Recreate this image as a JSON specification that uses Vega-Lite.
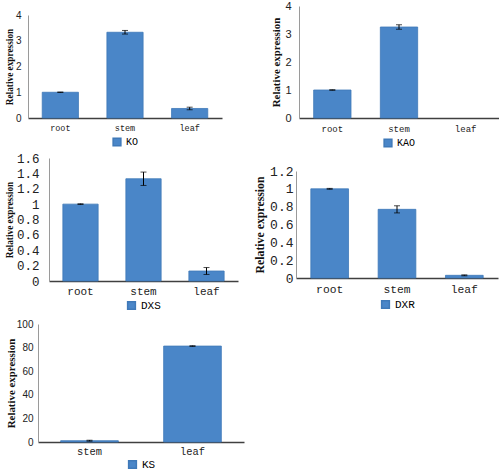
{
  "$schema": "https://vega.github.io/schema/vega-lite/v6.json",
  "padding": {"left": 4, "top": 0, "right": 0, "bottom": 0},
  "background": "white",
  "config": {
    "view": {"stroke": null},
    "axis": {"grid": false, "ticks": false, "labelColor": "#222", "titleColor": "#111"},
    "legend": {"layout": {"bottom": {"anchor": "middle"}}}
  },
  "datasets": {
    "expr": [
      {"gene": "KO", "tissue": "root", "value": 1.0, "err": 0.01},
      {"gene": "KO", "tissue": "stem", "value": 3.33, "err": 0.07},
      {"gene": "KO", "tissue": "leaf", "value": 0.37, "err": 0.05},
      {"gene": "KAO", "tissue": "root", "value": 1.0, "err": 0.01},
      {"gene": "KAO", "tissue": "stem", "value": 3.25, "err": 0.08},
      {"gene": "KAO", "tissue": "leaf", "value": 0, "err": 0},
      {"gene": "DXS", "tissue": "root", "value": 1.0, "err": 0.005},
      {"gene": "DXS", "tissue": "stem", "value": 1.33, "err": 0.087},
      {"gene": "DXS", "tissue": "leaf", "value": 0.13, "err": 0.045},
      {"gene": "DXR", "tissue": "root", "value": 1.0, "err": 0.005},
      {"gene": "DXR", "tissue": "stem", "value": 0.77, "err": 0.04},
      {"gene": "DXR", "tissue": "leaf", "value": 0.03, "err": 0.005},
      {"gene": "KS", "tissue": "stem", "value": 1.1, "err": 0.4},
      {"gene": "KS", "tissue": "leaf", "value": 81.3, "err": 0.3}
    ]
  },
  "data": {"name": "expr"},
  "spacing": 2,
  "resolve": {"scale": {"color": "independent", "x": "independent", "y": "independent"}, "legend": {"color": "independent"}},
  "vconcat": [
    {
      "spacing": 0,
      "resolve": {"scale": {"color": "independent", "x": "independent", "y": "independent"}, "legend": {"color": "independent"}},
      "hconcat": [
        {"width": 1, "height": 1, "data": {"values": []}, "mark": {"type": "point", "opacity": 0}},
        {
          "spacing": 48,
          "resolve": {"scale": {"color": "independent", "x": "independent", "y": "independent"}, "legend": {"color": "independent"}},
          "hconcat": [
            {
              "width": 194, "height": 112,
              "transform": [{"filter": "datum.gene === 'KO'"}],
              "encoding": {
                "x": {"field": "tissue", "type": "nominal", "sort": ["root", "stem", "leaf"], "scale": {"domain": ["root", "stem", "leaf"], "paddingInner": 0.44, "paddingOuter": 0.22},
                  "axis": {"title": null, "labelAngle": 0, "labelFont": "Liberation Mono", "labelFontSize": 8.5, "labelPadding": 5, "domainColor": "#404040", "domainWidth": 1.5}},
                "y": {"field": "value", "type": "quantitative", "scale": {"domain": [0, 4], "rangeMax": 9},
                  "axis": {"title": "Relative expression", "titleFont": "Liberation Serif", "titleFontWeight": "bold", "titleFontSize": 9.3, "titlePadding": 1, "labelFont": "Liberation Sans", "labelFontSize": 10, "labelPadding": 7, "values": [0, 1, 2, 3, 4], "domainColor": "#9a9a9a"}}
              },
              "layer": [
                {"transform": [{"filter": "datum.value > 0"}], "mark": {"type": "bar", "stroke": "#3f79b8", "strokeWidth": 0.8},
                 "encoding": {"color": {"field": "gene", "type": "nominal", "scale": {"range": ["#4a86c8"]},
                   "legend": {"title": null, "orient": "bottom", "direction": "horizontal", "symbolType": "square", "symbolSize": 60, "labelFont": "Liberation Mono", "labelFontSize": 10, "offset": 5}}}},
                {"transform": [{"filter": "datum.err > 0"}], "mark": {"type": "errorbar", "ticks": {"size": 6}, "color": "black", "thickness": 1}, "encoding": {"yError": {"field": "err"}}}
              ]
            },
            {
              "width": 200, "height": 112,
              "transform": [{"filter": "datum.gene === 'KAO'"}],
              "encoding": {
                "x": {"field": "tissue", "type": "nominal", "sort": ["root", "stem", "leaf"], "scale": {"domain": ["root", "stem", "leaf"], "paddingInner": 0.44, "paddingOuter": 0.22},
                  "axis": {"title": null, "labelAngle": 0, "labelFont": "Liberation Mono", "labelFontSize": 9, "labelPadding": 6, "domainColor": "#404040", "domainWidth": 1.5}},
                "y": {"field": "value", "type": "quantitative", "scale": {"domain": [0, 4]},
                  "axis": {"title": "Relative expression", "titleFont": "Liberation Serif", "titleFontWeight": "bold", "titleFontSize": 10.9, "titlePadding": 3, "labelFont": "Liberation Sans", "labelFontSize": 11, "labelPadding": 8, "values": [0, 1, 2, 3, 4], "domainColor": "#9a9a9a"}}
              },
              "layer": [
                {"transform": [{"filter": "datum.value > 0"}], "mark": {"type": "bar", "stroke": "#3f79b8", "strokeWidth": 0.8},
                 "encoding": {"color": {"field": "gene", "type": "nominal", "scale": {"range": ["#4a86c8"]},
                   "legend": {"title": null, "orient": "bottom", "direction": "horizontal", "symbolType": "square", "symbolSize": 60, "labelFont": "Liberation Mono", "labelFontSize": 10, "offset": 5}}}},
                {"transform": [{"filter": "datum.err > 0"}], "mark": {"type": "errorbar", "ticks": {"size": 6}, "color": "black", "thickness": 1}, "encoding": {"yError": {"field": "err"}}}
              ]
            }
          ]
        }
      ]
    },
    {
      "spacing": 0,
      "resolve": {"scale": {"color": "independent", "x": "independent", "y": "independent"}, "legend": {"color": "independent"}},
      "hconcat": [
        {"width": 1, "height": 1, "data": {"values": []}, "mark": {"type": "point", "opacity": 0}},
        {
          "spacing": 16,
          "resolve": {"scale": {"color": "independent", "x": "independent", "y": "independent"}, "legend": {"color": "independent"}},
          "hconcat": [
            {
              "width": 189, "height": 123,
              "transform": [{"filter": "datum.gene === 'DXS'"}],
              "encoding": {
                "x": {"field": "tissue", "type": "nominal", "sort": ["root", "stem", "leaf"], "scale": {"domain": ["root", "stem", "leaf"], "paddingInner": 0.44, "paddingOuter": 0.22},
                  "axis": {"title": null, "labelAngle": 0, "labelFont": "Liberation Mono", "labelFontSize": 11, "labelPadding": 4.5, "domainColor": "#404040", "domainWidth": 1.5}},
                "y": {"field": "value", "type": "quantitative", "scale": {"domain": [0, 1.6]},
                  "axis": {"title": "Relative expression", "titleFont": "Liberation Serif", "titleFontWeight": "bold", "titleFontSize": 9.3, "titlePadding": 2, "labelFont": "Liberation Mono", "labelFontSize": 12.5, "labelPadding": 10, "format": "~g", "values": [0, 0.2, 0.4, 0.6, 0.8, 1, 1.2, 1.4, 1.6], "domainColor": "#9a9a9a"}}
              },
              "layer": [
                {"mark": {"type": "bar", "stroke": "#3f79b8", "strokeWidth": 0.8},
                 "encoding": {"color": {"field": "gene", "type": "nominal", "scale": {"range": ["#4a86c8"]},
                   "legend": {"title": null, "orient": "bottom", "direction": "horizontal", "symbolType": "square", "symbolSize": 60, "labelFont": "Liberation Mono", "labelFontSize": 11, "offset": -1, "padding": 4}}}},
                {"transform": [{"filter": "datum.err > 0"}], "mark": {"type": "errorbar", "ticks": {"size": 6}, "color": "black", "thickness": 1}, "encoding": {"yError": {"field": "err"}}}
              ]
            },
            {
              "width": 202, "height": 120,
              "transform": [{"filter": "datum.gene === 'DXR'"}],
              "encoding": {
                "x": {"field": "tissue", "type": "nominal", "sort": ["root", "stem", "leaf"], "scale": {"domain": ["root", "stem", "leaf"], "paddingInner": 0.44, "paddingOuter": 0.22},
                  "axis": {"title": null, "labelAngle": 0, "labelFont": "Liberation Mono", "labelFontSize": 11.3, "labelPadding": 5.4, "domainColor": "#404040", "domainWidth": 1.5}},
                "y": {"field": "value", "type": "quantitative", "scale": {"domain": [0, 1.2], "rangeMax": 13},
                  "axis": {"title": "Relative expression", "titleFont": "Liberation Serif", "titleFontWeight": "bold", "titleFontSize": 11.8, "titlePadding": 4, "labelFont": "Liberation Mono", "labelFontSize": 13, "labelPadding": 3, "format": "~g", "values": [0, 0.2, 0.4, 0.6, 0.8, 1, 1.2], "domainColor": "#9a9a9a"}}
              },
              "layer": [
                {"mark": {"type": "bar", "stroke": "#3f79b8", "strokeWidth": 0.8},
                 "encoding": {"color": {"field": "gene", "type": "nominal", "scale": {"range": ["#4a86c8"]},
                   "legend": {"title": null, "orient": "bottom", "direction": "horizontal", "symbolType": "square", "symbolSize": 60, "labelFont": "Liberation Mono", "labelFontSize": 11, "offset": 0, "padding": 4}}}},
                {"transform": [{"filter": "datum.err > 0"}], "mark": {"type": "errorbar", "ticks": {"size": 6}, "color": "black", "thickness": 1}, "encoding": {"yError": {"field": "err"}}}
              ]
            }
          ]
        }
      ]
    },
    {
      "spacing": 0,
      "resolve": {"scale": {"color": "independent", "x": "independent", "y": "independent"}, "legend": {"color": "independent"}},
      "hconcat": [
        {"width": 1, "height": 1, "data": {"values": []}, "mark": {"type": "point", "opacity": 0}},
        {
          "width": 206, "height": 118,
          "transform": [{"filter": "datum.gene === 'KS'"}],
          "encoding": {
            "x": {"field": "tissue", "type": "nominal", "sort": ["stem", "leaf"], "scale": {"domain": ["stem", "leaf"], "paddingInner": 0.44, "paddingOuter": 0.22},
              "axis": {"title": null, "labelAngle": 0, "labelFont": "Liberation Mono", "labelFontSize": 10.4, "labelPadding": 4.8, "domainColor": "#404040", "domainWidth": 1.5}},
            "y": {"field": "value", "type": "quantitative", "scale": {"domain": [0, 100]},
              "axis": {"title": "Relative expression", "titleFont": "Liberation Serif", "titleFontWeight": "bold", "titleFontSize": 10.9, "titlePadding": 0, "labelFont": "Liberation Sans", "labelFontSize": 10, "labelPadding": 5, "values": [0, 20, 40, 60, 80, 100], "domainColor": "#9a9a9a"}}
          },
          "layer": [
            {"mark": {"type": "bar", "stroke": "#3f79b8", "strokeWidth": 0.8},
             "encoding": {"color": {"field": "gene", "type": "nominal", "scale": {"range": ["#4a86c8"]},
               "legend": {"title": null, "orient": "bottom", "direction": "horizontal", "symbolType": "square", "symbolSize": 60, "labelFont": "Liberation Mono", "labelFontSize": 11, "offset": 1}}}},
            {"transform": [{"filter": "datum.err > 0"}], "mark": {"type": "errorbar", "ticks": {"size": 6}, "color": "black", "thickness": 1}, "encoding": {"yError": {"field": "err"}}}
          ]
        }
      ]
    }
  ]
}
